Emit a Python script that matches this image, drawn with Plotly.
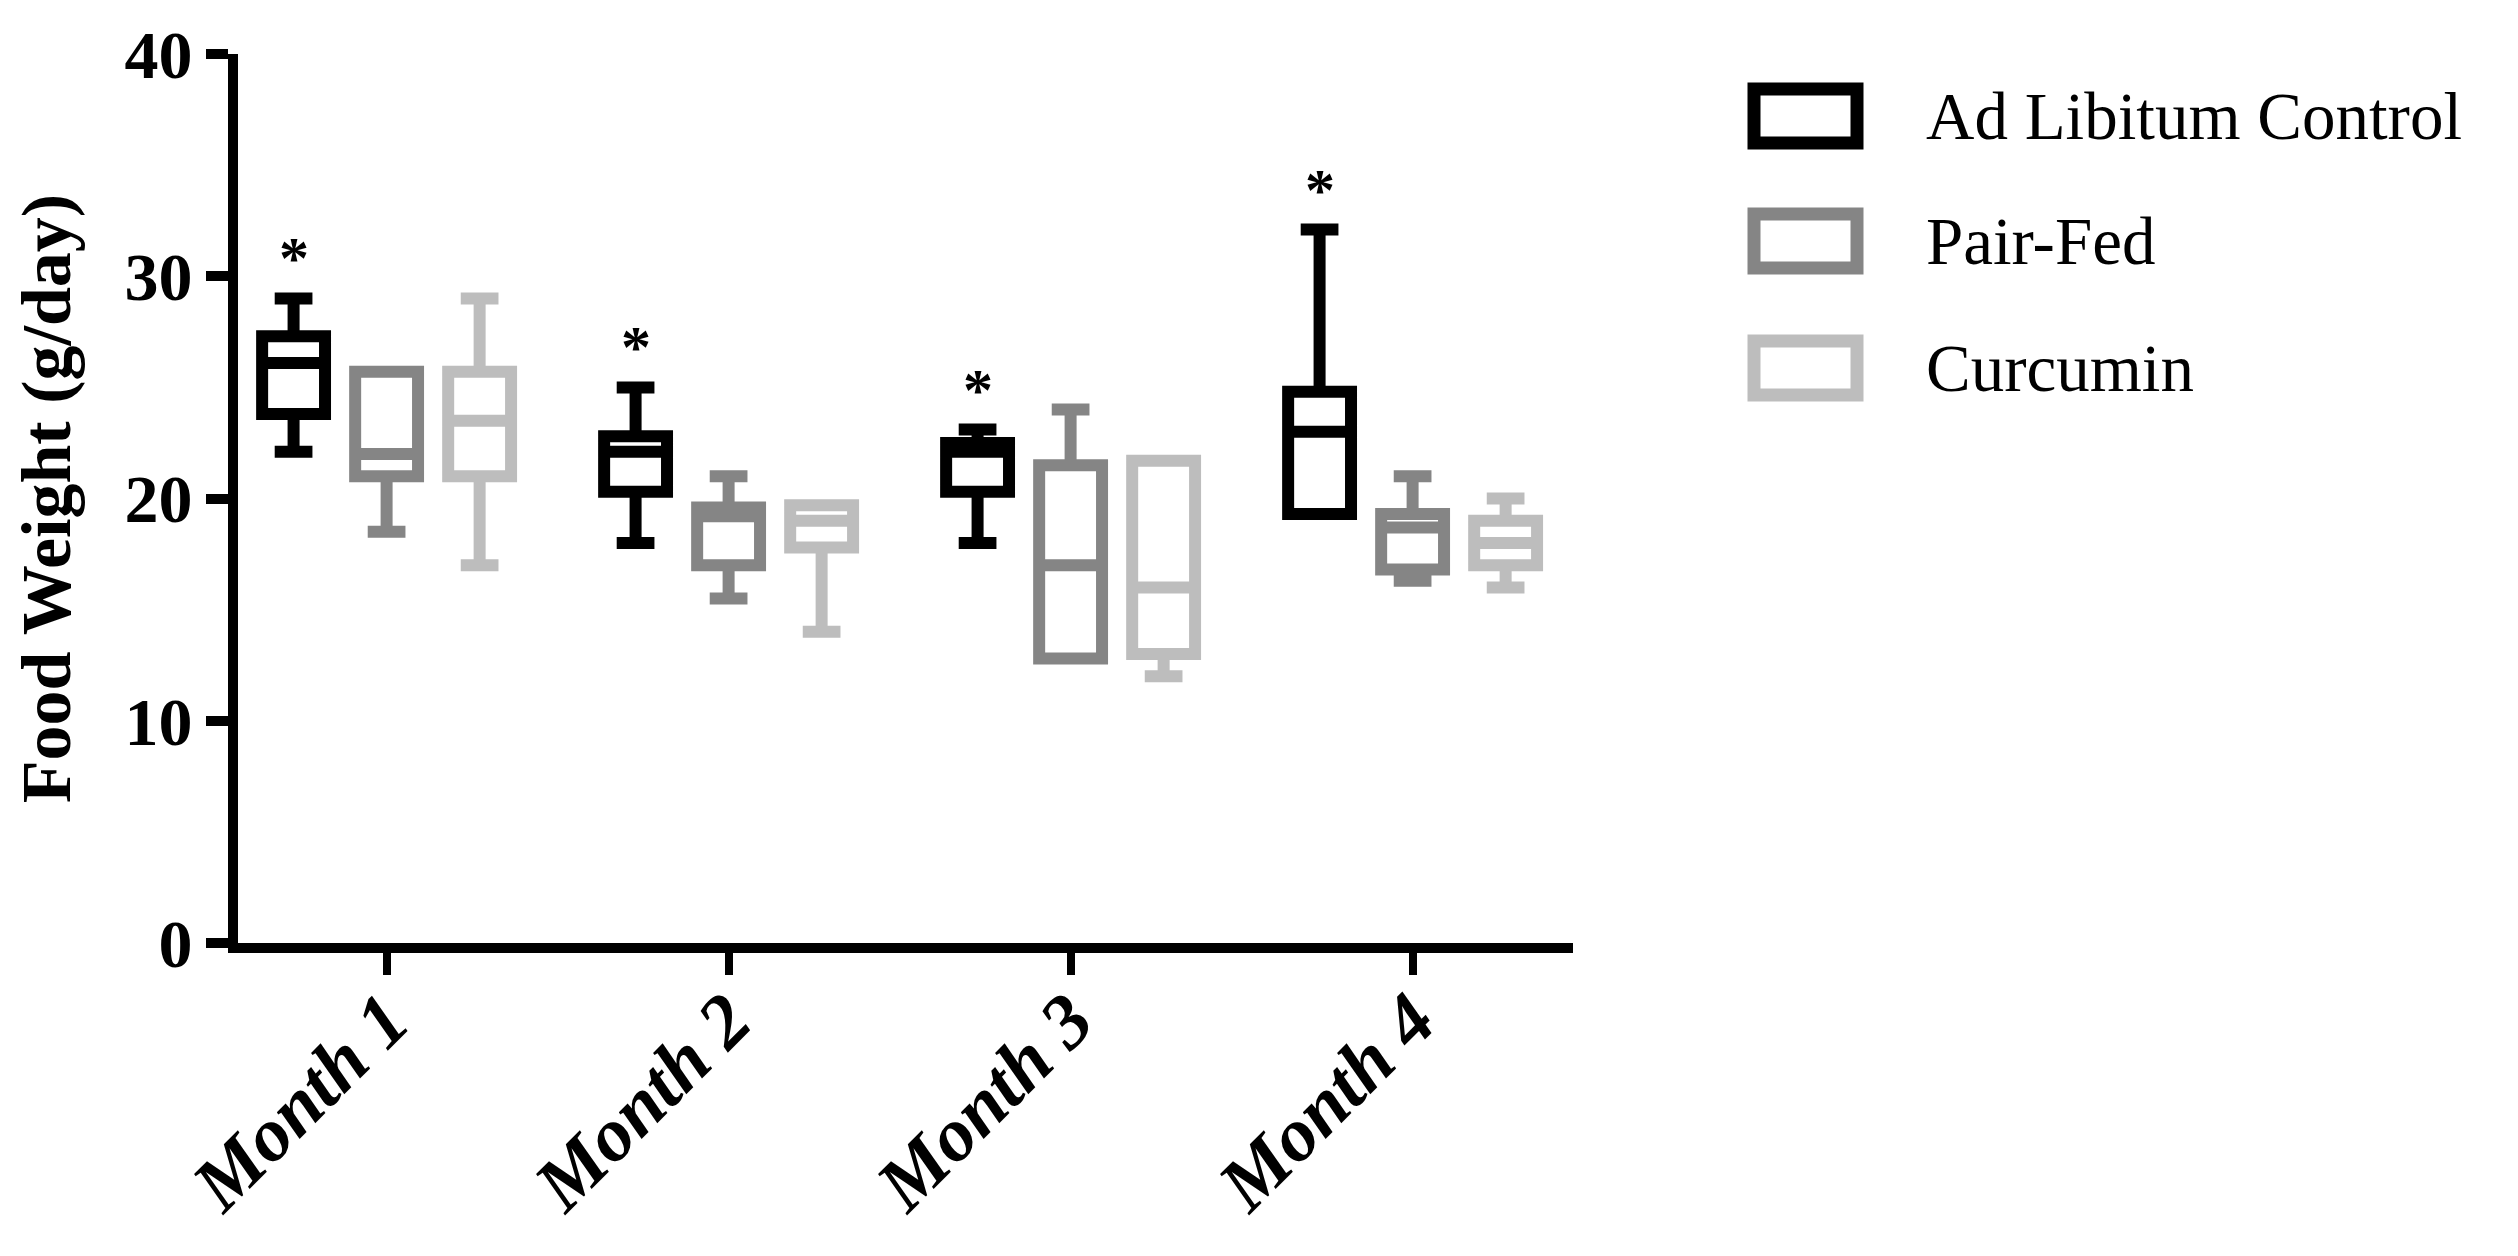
import plotly.graph_objects as go

# ---------------- data ----------------
months = ["Month 1", "Month 2", "Month 3", "Month 4"]
groups = ["Ad Libitum Control", "Pair-Fed", "Curcumin"]
colors = ["#000000", "#858585", "#bdbdbd"]

adlib_low = [22.1, 18.0, 18.0, 19.3]
adlib_q1 = [23.8, 20.3, 20.3, 19.3]
adlib_med = [26.1, 22.1, 22.1, 23.0]
adlib_q3 = [27.3, 22.8, 22.5, 24.8]
adlib_high = [29.0, 25.0, 23.1, 32.1]

pair_low = [18.5, 15.5, 12.8, 16.3]
pair_q1 = [21.0, 17.0, 12.8, 16.8]
pair_med = [22.0, 19.2, 17.0, 18.7]
pair_q3 = [25.7, 19.6, 21.5, 19.3]
pair_high = [25.7, 21.0, 24.0, 21.0]

curc_low = [17.0, 14.0, 12.0, 16.0]
curc_q1 = [21.0, 17.8, 13.0, 17.0]
curc_med = [23.5, 19.0, 16.0, 18.0]
curc_q3 = [25.7, 19.7, 21.7, 19.0]
curc_high = [29.0, 19.7, 21.7, 20.0]

significant = ["*", "*", "*", "*"]  # Ad Libitum vs others, per month

y_ticks = [0, 10, 20, 30, 40]
y_title = "Food Weight (g/day)"

# ---------------- layout constants ----------------
PAGE_MARGIN = 8  # browser body margin
W, H = 2518 - PAGE_MARGIN, 1256 - PAGE_MARGIN
ML, MT = 238 - PAGE_MARGIN, 54 - PAGE_MARGIN
PW, PH = 1335, 889
MR, MB = W - ML - PW, H - MT - PH
BOXGAP, BOXGROUPGAP = 0.184, 0.324
FONT = "Liberation Serif"
LW = 12

def px_x(px):
    return (px - PAGE_MARGIN - ML) / PW

def px_y(py):
    return (MT + PH - (py - PAGE_MARGIN)) / PH

stats = [
    (adlib_low, adlib_q1, adlib_med, adlib_q3, adlib_high),
    (pair_low, pair_q1, pair_med, pair_q3, pair_high),
    (curc_low, curc_q1, curc_med, curc_q3, curc_high),
]

fig = go.Figure()
for name, col, (lo, q1, med, q3, hi) in zip(groups, colors, stats):
    fig.add_trace(go.Box(
        x=months, lowerfence=lo, q1=q1, median=med, q3=q3, upperfence=hi,
        name=name, line=dict(color=col, width=LW), fillcolor="white",
        whiskerwidth=0.6, boxpoints=False, showlegend=False,
    ))

# significance asterisks above Ad Libitum boxes
offset = -(1 - BOXGAP) / 3
for i, s in enumerate(significant):
    fig.add_annotation(x=i + offset, y=adlib_high[i] + 1.8, xref="x", yref="y",
                       text=s, showarrow=False, yanchor="middle",
                       font=dict(family=FONT, size=60, color="black", weight="bold"))

# custom legend
row_y = [116, 241, 368]
for name, col, ry in zip(groups, colors, row_y):
    fig.add_shape(type="rect", xref="paper", yref="paper",
                  x0=px_x(1754), x1=px_x(1857), y0=px_y(ry + 27), y1=px_y(ry - 27),
                  line=dict(color=col, width=13), fillcolor="white")
    fig.add_annotation(x=px_x(1924), y=px_y(ry), xref="paper", yref="paper",
                       text=name, showarrow=False, xanchor="left", yanchor="middle",
                       font=dict(family=FONT, size=67, color="black"))

fig.update_layout(
    width=W, height=H,
    margin=dict(l=ML, r=MR, t=MT, b=MB, autoexpand=False),
    paper_bgcolor="white", plot_bgcolor="white",
    boxmode="group", boxgap=BOXGAP, boxgroupgap=BOXGROUPGAP,
    font=dict(family=FONT, color="black"),
)
fig.update_xaxes(
    type="category", range=[-0.4345, 3.469],
    showline=True, linewidth=10, linecolor="black",
    ticks="outside", ticklen=22, tickwidth=8, tickcolor="black",
    tickangle=-45, showgrid=False, zeroline=False, ticklabelstandoff=-30,
    tickfont=dict(family=FONT, size=76, color="black", weight="bold", style="italic"),
)
fig.update_yaxes(
    range=[0, 40], tickvals=y_ticks,
    showline=True, linewidth=10, linecolor="black",
    ticks="outside", ticklen=22, tickwidth=10, tickcolor="black",
    showgrid=False, zeroline=False,
    tickfont=dict(family=FONT, size=68, color="black", weight="bold"),
    title=dict(text=y_title, standoff=42,
               font=dict(family=FONT, size=70, color="black", weight="bold")),
)

fig.write_html("out.html")
